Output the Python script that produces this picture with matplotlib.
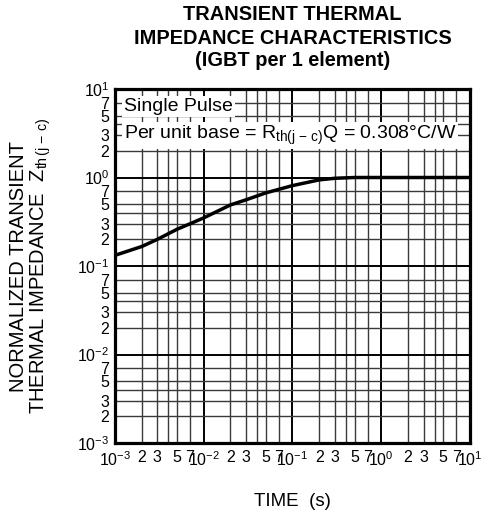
import matplotlib
matplotlib.use("Agg")
import matplotlib.pyplot as plt
from matplotlib.ticker import FixedLocator, FixedFormatter

# ---- data ----
time_s = [1e-3, 2e-3, 3e-3, 5e-3, 7e-3, 1e-2, 2e-2, 3e-2, 5e-2, 1e-1, 2e-1, 3e-1, 5e-1, 1.0, 10.0]
zth_norm = [0.132, 0.166, 0.20, 0.26, 0.30, 0.35, 0.49, 0.56, 0.67, 0.81, 0.94, 0.98, 1.0, 1.0, 1.0]

decades = [-3, -2, -1, 0, 1]
minor_mults = [2, 3, 4, 5, 7]
labeled_mults = [2, 3, 5, 7]

title_lines = ["TRANSIENT THERMAL", "IMPEDANCE CHARACTERISTICS", "(IGBT per 1 element)"]
xlabel = "TIME  (s)"
ylabel_line1 = "NORMALIZED TRANSIENT"
ylabel_line2 = r"THERMAL IMPEDANCE  Z$_{\mathrm{th\,(j\,-\,c)}}$"
note1 = "Single Pulse"
note2 = r"Per unit base = R$_{\mathrm{th(j\,-\,c)}}$Q = 0.308°C/W"

plt.rcParams['font.family'] = ['Liberation Sans', 'DejaVu Sans']
plt.rcParams['mathtext.fontset'] = 'custom'
plt.rcParams['mathtext.rm'] = 'Liberation Sans'
plt.rcParams['mathtext.it'] = 'Liberation Sans:italic'
plt.rcParams['mathtext.bf'] = 'Liberation Sans:bold'

W, H = 485, 520
fig = plt.figure(figsize=(W / 100, H / 100), dpi=100)
L, R, T, B = 115, 470, 89, 443
ax = fig.add_axes([L / W, 1 - B / H, (R - L) / W, (B - T) / H])

ax.set_xscale('log')
ax.set_yscale('log')
ax.set_xlim(10.0 ** decades[0], 10.0 ** decades[-1])
ax.set_ylim(10.0 ** decades[0], 10.0 ** decades[-1])

major = [10.0 ** d for d in decades]
minor = [m * 10.0 ** d for d in decades[:-1] for m in minor_mults]
major_lbl = [r"$10^{%d}$" % d for d in decades]
minor_lbl = [str(m) if m in labeled_mults else "" for d in decades[:-1] for m in minor_mults]

for axis in (ax.xaxis, ax.yaxis):
    axis.set_major_locator(FixedLocator(major))
    axis.set_major_formatter(FixedFormatter(major_lbl))
    axis.set_minor_locator(FixedLocator(minor))
    axis.set_minor_formatter(FixedFormatter(minor_lbl))

ax.tick_params(which='both', length=0, labelsize=11.5)
ax.tick_params(axis='x', which='both', pad=5)
ax.tick_params(axis='y', which='both', pad=4)

ax.grid(which='major', color='black', linewidth=1.4)
ax.grid(which='minor', color='#3a3a3a', linewidth=1.0)
ax.set_axisbelow(True)
for s in ax.spines.values():
    s.set_linewidth(2.3)

ax.plot(time_s, zth_norm, color='black', linewidth=2.5, zorder=3)

bb = dict(facecolor='white', edgecolor='none', pad=1.5)
ax.text(0.025, 0.950, note1, transform=ax.transAxes, fontsize=14, va='center', ha='left',
        bbox=bb, zorder=4)
ax.text(0.025, 0.868, note2, transform=ax.transAxes, fontsize=14, va='center', ha='left',
        bbox=bb, zorder=4)

cx = (L + R) / 2 / W
ys = [15, 38, 61]
for line, y in zip(title_lines, ys):
    fig.text(cx, 1 - y / H, line, ha='center', va='center', fontsize=14.4, fontweight='bold')

fig.text(cx, 1 - 501 / H, xlabel, ha='center', va='center', fontsize=13.5)
cy = 1 - (T + B) / 2 / H
fig.text(19 / W, cy, ylabel_line1, rotation=90, ha='center', va='center', fontsize=14.5)
fig.text(41 / W, cy, ylabel_line2, rotation=90, ha='center', va='center', fontsize=14.5)

fig.savefig('out.png', dpi=100)
